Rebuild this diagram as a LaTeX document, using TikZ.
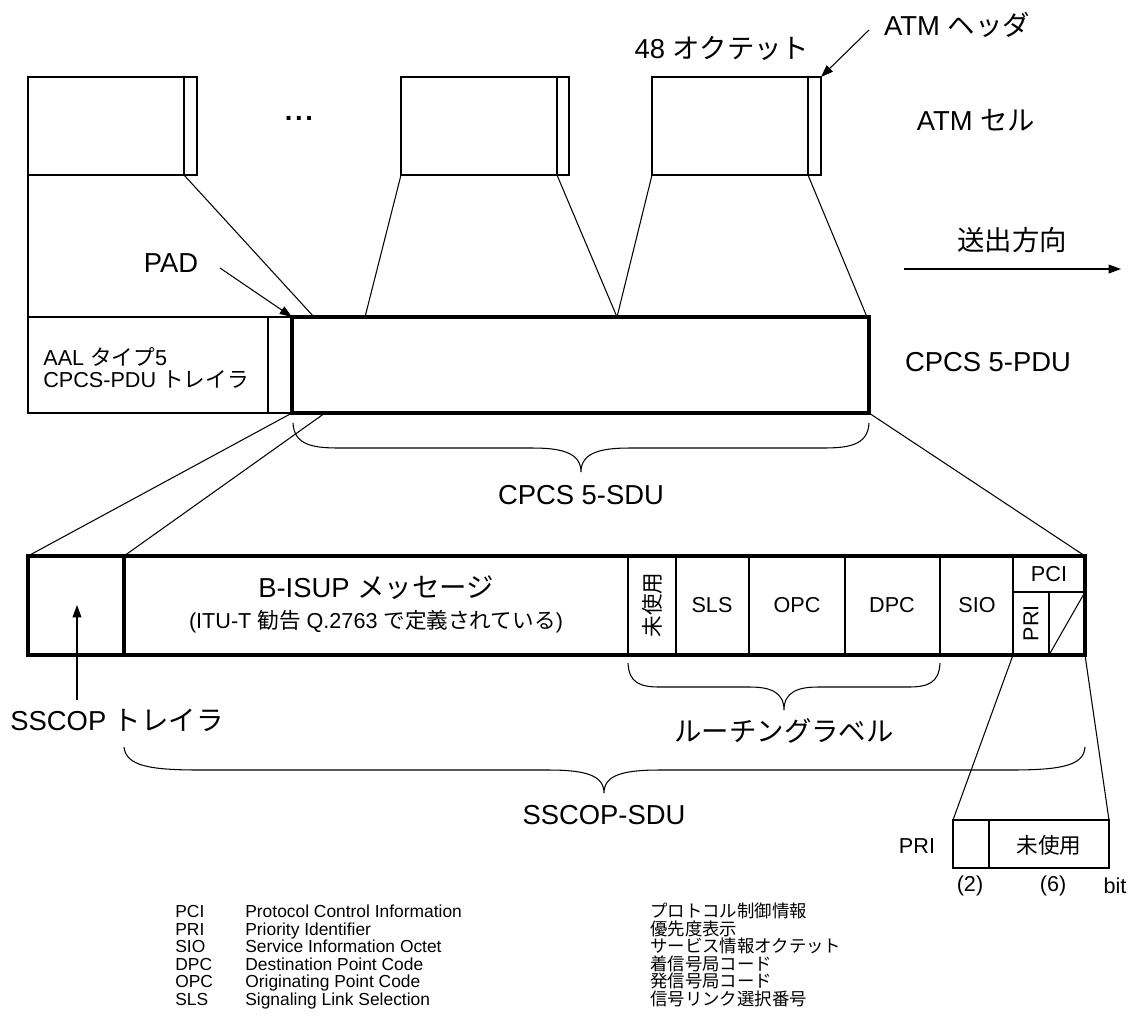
\documentclass[tikz,border=0pt]{standalone}
\usepackage{fontspec}
\setmainfont{Liberation Sans}
\newfontfamily\jp{Noto Sans CJK JP}
\usetikzlibrary{arrows.meta}
\begin{document}
\begin{tikzpicture}[x=0.02cm,y=-0.02cm,
  big/.style={font=\fontsize{15.6}{18}\selectfont, inner sep=0pt},
  med/.style={font=\fontsize{12.3}{13}\selectfont, inner sep=0pt},
  sml/.style={font=\fontsize{9.9}{12}\selectfont, inner sep=0pt, text height=7.2pt, text depth=1.8pt},
  thinl/.style={line width=0.6pt},
  thickb/.style={line width=2.4pt},
  arr/.style={line width=0.6pt, -{Triangle[length=7pt,width=5pt]}},
  bracel/.style={line width=0.6pt}]
\useasboundingbox (0,0) rectangle (1133,1019);

% ---------------- ATM cells ----------------
\draw[thinl] (28,77) rectangle (197,175);  \draw[thinl] (184,77) -- (184,175);
\draw[thinl] (401,77) rectangle (569,175); \draw[thinl] (557,77) -- (557,175);
\draw[thinl] (652,77) rectangle (821,175); \draw[thinl] (808,77) -- (808,175);
\coordinate (c1L) at (28,175);  \coordinate (c1H) at (184,175);
\coordinate (c2L) at (401,175); \coordinate (c2H) at (557,175);
\coordinate (c3L) at (652,175); \coordinate (c3H) at (808,175);
\coordinate (c3TR) at (821,77);
\node[big, font=\fontsize{15.6}{18}\selectfont\bfseries] (dots) at (299,118) {.\kern1.5pt.\kern1.5pt.};

\node[big] (oct) at (722,48) {48 {\jp オクテット}};
\node[big] (hdr) at (957,25) {ATM {\jp ヘッダ}};
\coordinate (hdrA) at (869,30);
\draw[arr] (hdrA) -- (c3TR);
\node[big] (atmcell) at (976,120) {ATM {\jp セル}};
\node[big] (dir) at (1012,240) {\jp 送出方向};
\coordinate (dirA) at (904,269); \coordinate (dirB) at (1121,269);
\draw[arr] (dirA) -- (dirB);

% ---------------- CPCS PDU ----------------
\draw[thinl] (28,317) rectangle (292,413); \draw[thinl] (268,317) -- (268,413);
\node[med, align=left, anchor=west] (aal) at (43,368) {AAL {\jp タイプ}5\\CPCS-PDU {\jp トレイラ}};
\draw[thickb] (292,317) rectangle (869,413);
\coordinate (pTL) at (292,317);
\coordinate (p1) at (28,317);  \coordinate (p2) at (314,317);
\coordinate (p3) at (365,317); \coordinate (p4) at (617,317);
\coordinate (p5) at (867,317);
\coordinate (pBL) at (292,413); \coordinate (pB2) at (325,413); \coordinate (pBR) at (869,413);
\node[big] (pdu) at (988,362) {CPCS 5-PDU};

\draw[thinl] (c1L) -- (p1);
\draw[thinl] (c1H) -- (p2);
\draw[thinl] (c2L) -- (p3);
\draw[thinl] (c2H) -- (p4);
\draw[thinl] (c3L) -- (p4);
\draw[thinl] (c3H) -- (p5);

\node[big] (pad) at (171,263) {PAD};
\coordinate (padA) at (220,268);
\draw[arr] (padA) -- (pTL);

% brace CPCS 5-SDU
\draw[bracel] (293,423) .. controls (294,446) and (315,448) .. (340,448) -- (532,448)
  .. controls (560,448) and (581,452) .. (581,472)
  .. controls (581,452) and (602,448) .. (630,448) -- (822,448)
  .. controls (847,448) and (868,446) .. (869,423);
\node[big] (sdu) at (581,495) {CPCS 5-SDU};

% ---------------- SSCOP PDU ----------------
\coordinate (sTL) at (28,556); \coordinate (sT2) at (124,556); \coordinate (sTR) at (1085,556);
\draw[thinl] (pBL) -- (sTL);
\draw[thinl] (pB2) -- (sT2);
\draw[thinl] (pBR) -- (sTR);

\draw[thinl] (628,556) -- (628,655);
\draw[thinl] (676,556) -- (676,655);
\draw[thinl] (749,556) -- (749,655);
\draw[thinl] (845,556) -- (845,655);
\draw[thinl] (940,556) -- (940,655);
\draw[thinl] (1013,556) -- (1013,655);
\draw[thinl] (1013,592) -- (1085,592);
\draw[thinl] (1049,592) -- (1049,655);
\draw[thinl] (1049,655) -- (1085,592);
\draw[thickb] (28,556) rectangle (1085,655);
\draw[thickb] (124,556) -- (124,655);

\node[big] (bisup) at (376,588) {B-ISUP {\jp メッセージ}};
\node[med] (itu) at (376,622) {(ITU-T {\jp 勧告} Q.2763 {\jp で定義されている})};
\node[med, rotate=90] (unused) at (652,605) {\jp 未使用};
\node[med] (sls) at (712,605) {SLS};
\node[med] (opc) at (797,605) {OPC};
\node[med] (dpc) at (892,605) {DPC};
\node[med] (sio) at (977,605) {SIO};
\node[med] (pci) at (1049,574) {PCI};
\node[med, rotate=90] (pri) at (1031,623) {PRI};

% SSCOP trailer label
\node[big] (sscopt) at (117,720) {SSCOP {\jp トレイラ}};
\coordinate (stA) at (77,700); \coordinate (stB) at (77,605);
\draw[arr] (stA) -- (stB);

% routing label brace
\draw[bracel] (628,663) .. controls (629,683) and (640,687) .. (660,687) -- (750,687)
  .. controls (770,687) and (784,692) .. (784,710)
  .. controls (784,692) and (798,687) .. (818,687) -- (908,687)
  .. controls (928,687) and (939,683) .. (940,663);
\node[big] (route) at (784,731) {\jp ルーチングラベル};

% SSCOP-SDU brace
\draw[bracel] (124,747) .. controls (126,766) and (150,770) .. (200,770) -- (548,770)
  .. controls (585,770) and (604,775) .. (604,793)
  .. controls (604,775) and (623,770) .. (660,770) -- (1010,770)
  .. controls (1060,770) and (1084,766) .. (1085,747);
\node[big] (ssdu) at (604,815) {SSCOP-SDU};

% ---------------- PRI bit detail ----------------
\coordinate (q1) at (1013,655); \coordinate (q2) at (1085,655);
\coordinate (b1) at (953,820); \coordinate (b2) at (1109,820);
\draw[thinl] (q1) -- (b1);
\draw[thinl] (q2) -- (b2);
\draw[thinl] (953,820) rectangle (1109,868);
\draw[thinl] (989,820) -- (989,868);
\node[med] (bun) at (1049,845) {\jp 未使用};
\node[med] (bpri) at (917,846) {PRI};
\node[med] (b2l) at (970,886) {(2)};
\node[med] (b6l) at (1053,886) {(6)};
\node[med] (bbit) at (1115,886) {bit};

% ---------------- legend ----------------
\foreach \i/\a/\e/\j in {0/PCI/Protocol Control Information/プロトコル制御情報,
  1/PRI/Priority Identifier/優先度表示,
  2/SIO/Service Information Octet/サービス情報オクテット,
  3/DPC/Destination Point Code/着信号局コード,
  4/OPC/Originating Point Code/発信号局コード,
  5/SLS/Signaling Link Selection/信号リンク選択番号}{
  \node[sml, anchor=west] (la\i) at (175,{913+17.5*\i}) {\a};
  \node[sml, anchor=west] (le\i) at (245,{913+17.5*\i}) {\e};
  \node[sml, anchor=west] (lj\i) at (650,{913+17.5*\i}) {\jp \j};
}
\end{tikzpicture}
\end{document}
